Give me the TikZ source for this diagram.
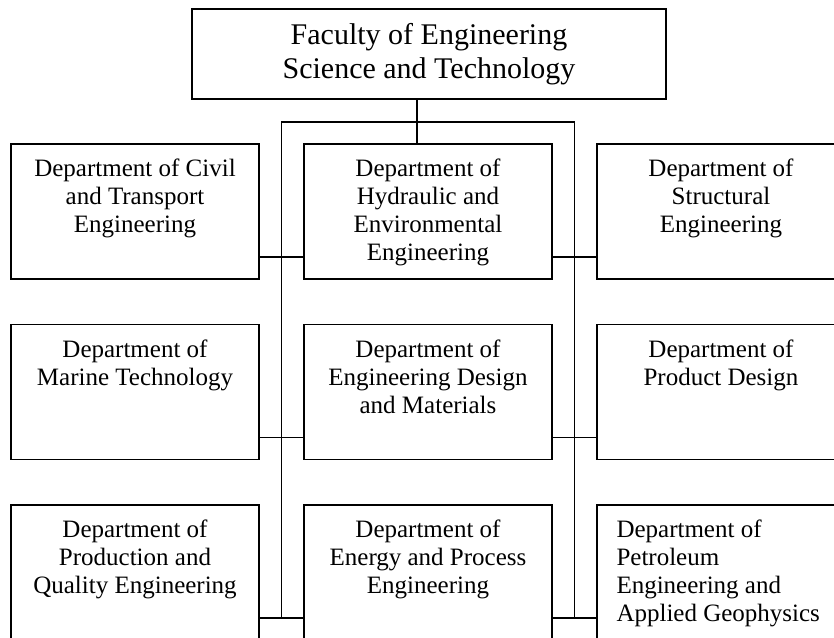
\documentclass[tikz,border=0pt]{standalone}
\usepackage{fontspec}
\setmainfont{Liberation Serif}
\usepackage{tikz}
\usetikzlibrary{positioning}

\newcommand{\deptfont}{\fontsize{25}{28}\selectfont}
\newcommand{\facfont}{\fontsize{30}{34}\selectfont}

\tikzset{
  unit/.style = {draw, line width=1.4pt, inner sep=0pt},
  deptbox/.style = {unit, minimum width=248pt, minimum height=135pt},
  depttext/.style = {anchor=north, align=center, inner sep=0pt, yshift=-15.5pt, font=\deptfont},
  link/.style = {line width=1.4pt},
}

\begin{document}
\begin{tikzpicture}[x=1pt, y=-1pt]
  \useasboundingbox (0,0) rectangle (834,637);
  \clip (0,0) rectangle (834,637);
  \node[unit, minimum width=474pt, minimum height=90pt, align=center, font=\facfont] (fac) at (429,54) {Faculty of Engineering\\Science and Technology};

  % first row
  \node[deptbox] (civ) at (135,211.5) {};
  \node[deptbox] (hyd) at (428,211.5) {};
  \node[deptbox] (str) at (721,211.5) {};
  \node[depttext] (civT) at (civ.north) {Department of Civil\\and Transport\\Engineering};
  \node[depttext] (hydT) at (hyd.north) {Department of\\Hydraulic and\\Environmental\\Engineering};
  \node[depttext] (strT) at (str.north) {Department of\\Structural\\Engineering};

  % second row
  \node[deptbox] (mar) at (135,392) {};
  \node[deptbox] (des) at (428,392) {};
  \node[deptbox] (prd) at (721,392) {};
  \node[depttext] (marT) at (mar.north) {Department of\\Marine Technology};
  \node[depttext] (desT) at (des.north) {Department of\\Engineering Design\\and Materials};
  \node[depttext] (prdT) at (prd.north) {Department of\\Product Design};

  % third row
  \node[deptbox] (pqe) at (135,572.5) {};
  \node[deptbox] (epe) at (428,572.5) {};
  \node[deptbox] (pet) at (721,572.5) {};
  \node[depttext] (pqeT) at (pqe.north) {Department of\\Production and\\Quality Engineering};
  \node[depttext] (epeT) at (epe.north) {Department of\\Energy and Process\\Engineering};
  \node[depttext, anchor=north west, align=left, xshift=20pt] (petT) at (pet.north west) {Department of\\Petroleum\\Engineering and\\Applied Geophysics};

  \coordinate (spine) at (417,122);
  \coordinate (busL) at (281.5,122);
  \coordinate (busR) at (574.5,122);
  \coordinate (busEnd) at ([yshift=-45.5pt]pqe.east);

  \draw[link] (fac.south -| spine) -- (hyd.north -| spine);
  \draw[link] (busL |- busEnd) -- (busL) -- (busR) -- (busR |- busEnd);
  \foreach \l/\m/\r in {civ/hyd/str, mar/des/prd, pqe/epe/pet}{
    \draw[link] ([yshift=-45.5pt]\l.east) -- ([yshift=-45.5pt]\m.west);
    \draw[link] ([yshift=-45.5pt]\m.east) -- ([yshift=-45.5pt]\r.west);
  }
\end{tikzpicture}
\end{document}
